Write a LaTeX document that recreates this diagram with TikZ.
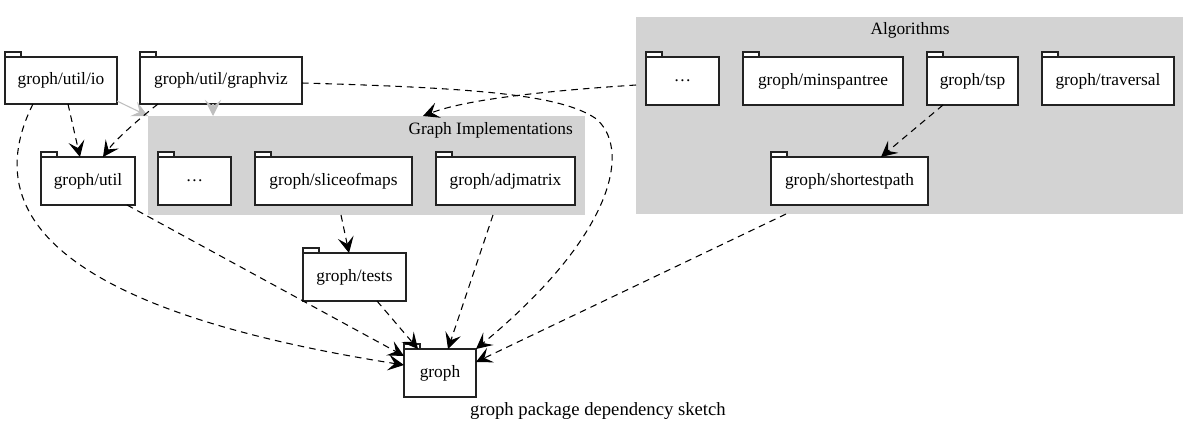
\documentclass[tikz,border=0pt]{standalone}
\usepackage{fontspec}
\setmainfont{Liberation Serif}
\usetikzlibrary{arrows.meta,calc}
\definecolor{clfill}{HTML}{D3D3D3}
\definecolor{lgray}{HTML}{BEBEBE}
\definecolor{edge}{HTML}{222222}
\tikzset{
  pkg/.style={draw=edge, fill=white, line width=1.1pt, inner sep=0pt, outer sep=0pt, font=\fontsize{13pt}{15pt}\selectfont},
  tabs/.style={draw=edge, fill=white, line width=0.9pt},
  cluster/.style={fill=clfill, inner sep=0pt, outer sep=0pt},
  tip/.style={-{Stealth[length=12pt,width=12pt,inset=5pt]}},
  dep/.style={tip, dash pattern=on 5pt off 3.75pt, line width=0.8pt},
  gdep/.style={tip, line width=0.8pt, lgray},
  lbl/.style={font=\fontsize{13pt}{15pt}\selectfont, inner sep=0pt}
}
\newcommand\pk[6]{\node[pkg, minimum width={(#4-#2)*0.75pt}, minimum height={(#5-#3)*0.75pt}] (#1) at ({(#2+#4)/2},{(#3+#5)/2}) {#6};
  \draw[tabs] (#1.north west) rectangle ++(16,-5);}
\newcommand\cl[5]{\node[cluster, minimum width={(#4-#2)*0.75pt}, minimum height={(#5-#3)*0.75pt}] (#1) at ({(#2+#4)/2},{(#3+#5)/2}) {};}
\begin{document}
\begin{tikzpicture}[x=0.75pt, y=-0.75pt]
\useasboundingbox (0,0) rectangle (1199,433);
% clusters
\cl{impl}{148}{116}{585}{215}
\cl{alg}{636}{17}{1183}{214}
\node[lbl, anchor=east] (impllbl) at (573,130) {Graph Implementations};
\node[lbl] (alglbl) at (910,30) {Algorithms};
% packages
\pk{io}{5}{57}{117}{104}{groph/util/io}
\pk{gv}{140}{57}{302}{104}{groph/util/graphviz}
\pk{util}{41}{157}{135}{205}{groph/util}
\pk{dotsa}{158}{157}{231}{205}{\dots}
\pk{slice}{255}{157}{412}{205}{groph/sliceofmaps}
\pk{adj}{436}{157}{575}{205}{groph/adjmatrix}
\pk{dotsb}{646}{57}{719}{105}{\dots}
\pk{mst}{743}{57}{903}{105}{groph/minspantree}
\pk{tsp}{927}{57}{1018}{105}{groph/tsp}
\pk{trav}{1042}{57}{1174}{105}{groph/traversal}
\pk{sp}{771}{157}{928}{205}{groph/shortestpath}
\pk{tests}{303}{253}{406}{301}{groph/tests}
\pk{groph}{404}{349}{476}{397}{groph}
\node[lbl, font=\fontsize{14pt}{16pt}\selectfont] (caption) at (598,411) {groph package dependency sketch};
% gray edges
\draw[gdep] ($(io.south east)+(0,-3)$) -- (impl.north west);
\draw[gdep] ($(gv.south west)+(73,0)$) -- ($(impl.north west)+(65,0)$);
% dashed edges
\draw[dep] ($(io.south west)+(63,0)$) -- ($(util.north west)+(39,0)$);
\draw[dep] ($(gv.south west)+(18,0)$) .. controls (140,118) and (115,140) .. ($(util.north west)+(62,0)$);
\draw[dep] ($(io.south west)+(28,0)$) .. controls (-35,240) and (120,320) .. ($(groph.north west)+(0,16)$);
\draw[dep] ($(util.south west)+(86,0)$) -- ($(groph.north west)+(0,7)$);
\draw[dep] ($(tests.south west)+(74,0)$) -- ($(groph.north west)+(14,0)$);
\draw[dep] ($(impl.south west)+(193,0)$) -- ($(tests.north west)+(46,0)$);
\draw[dep] ($(impl.south west)+(345,0)$) -- ($(groph.north west)+(44,0)$);
\draw[dep] ($(gv.north east)+(0,26)$) .. controls (480,88) and (560,95) .. (595,118)
  .. controls (630,145) and (620,230) .. (groph.north east);
\draw[dep] ($(alg.north west)+(0,68)$) .. controls (560,90) and (470,98) .. ($(impl.north west)+(275,0)$);
\draw[dep] ($(tsp.south west)+(16,0)$) -- ($(sp.north west)+(110,0)$);
\draw[dep] ($(alg.south west)+(150,0)$) -- ($(groph.north east)+(0,13)$);
\end{tikzpicture}
\end{document}
